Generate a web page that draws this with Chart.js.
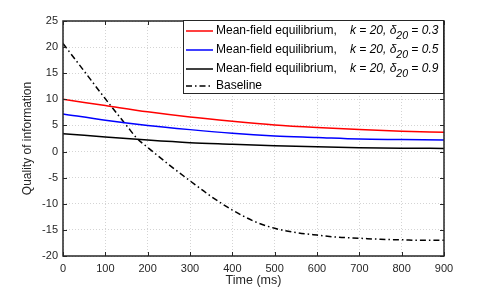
<!DOCTYPE html>
<html>
<head>
<meta charset="utf-8">
<script src="https://cdn.jsdelivr.net/npm/chart.js@4.4.1/dist/chart.umd.min.js"></script>
<style>
  html, body { margin: 0; padding: 0; background: #fff; }
  #wrap { position: relative; width: 491px; height: 289px; }
</style>
</head>
<body>
<div id="wrap"><canvas id="myChart" width="491" height="289"></canvas></div>
<script>
// Values
const timeMs = [0, 100, 200, 300, 400, 500, 600, 700, 800, 900];
const meanFieldDelta03 = [10.0, 8.8, 7.6, 6.6, 5.8, 5.1, 4.6, 4.2, 3.9, 3.7];
const meanFieldDelta05 = [7.2, 6.0, 5.0, 4.2, 3.5, 3.0, 2.7, 2.4, 2.3, 2.2];
const meanFieldDelta09 = [3.4, 2.8, 2.2, 1.7, 1.4, 1.1, 0.9, 0.75, 0.65, 0.6];
const baselineTime = [0, 50, 100, 150, 175, 200, 250, 300, 350, 400, 450, 500, 550, 600, 650, 700, 750, 800, 850, 900];
const baselineQuality = [20.7, 15.4, 10.1, 5.0, 2.5, 0.8, -2.5, -5.6, -8.6, -11.2, -13.3, -14.7, -15.5, -16.0, -16.4, -16.6, -16.8, -16.9, -17.0, -17.0];
const xTickValues = [0, 100, 200, 300, 400, 500, 600, 700, 800, 900];
const yTickValues = [-20, -15, -10, -5, 0, 5, 10, 15, 20, 25];

const legendItems = [
    { color: '#ff0000', dash: [], delta: '0.3' },
    { color: '#0000ff', dash: [], delta: '0.5' },
    { color: '#000000', dash: [], delta: '0.9' },
    { color: '#000000', dash: [6, 3, 1.5, 3], label: 'Baseline' }
];

const FONT = '"Liberation Sans", Arial, Helvetica, sans-serif';

function toPoints(xs, ys) {
    return xs.map((x, i) => ({ x: x, y: ys[i] }));
}

// box + inward ticks, MATLAB style
const boxPlugin = {
    id: 'boxPlugin',
    afterDatasetsDraw(chart) {
        const { ctx, chartArea: a, scales } = chart;
        ctx.save();
        ctx.strokeStyle = '#262626';
        ctx.lineWidth = 1;
        ctx.beginPath();
        xTickValues.forEach(v => {
            const px = Math.round(scales.x.getPixelForValue(v)) + 0.5;
            ctx.moveTo(px, a.bottom); ctx.lineTo(px, a.bottom - 4);
            ctx.moveTo(px, a.top); ctx.lineTo(px, a.top + 4);
        });
        yTickValues.forEach(v => {
            const py = Math.round(scales.y.getPixelForValue(v)) + 0.5;
            ctx.moveTo(a.left, py); ctx.lineTo(a.left + 4, py);
            ctx.moveTo(a.right, py); ctx.lineTo(a.right - 4, py);
        });
        ctx.stroke();
        ctx.lineWidth = 1.5;
        ctx.strokeRect(a.left, a.top, a.right - a.left, a.bottom - a.top);
        ctx.restore();
    }
};

// legend with subscripts, drawn on the canvas
const legendPlugin = {
    id: 'legendPlugin',
    afterDraw(chart) {
        const ctx = chart.ctx;
        const bx = 183, by = 20, bw = 260, bh = 73;
        ctx.save();
        ctx.fillStyle = '#fff';
        ctx.fillRect(bx, by, bw, bh);
        ctx.strokeStyle = '#262626';
        ctx.lineWidth = 1;
        ctx.strokeRect(bx + 0.5, by + 0.5, bw, bh);
        const rows = [31, 50, 69, 86];
        ctx.textBaseline = 'middle';
        legendItems.forEach((item, i) => {
            const y = rows[i];
            ctx.strokeStyle = item.color;
            ctx.lineWidth = 1.5;
            ctx.setLineDash(item.dash);
            ctx.beginPath();
            ctx.moveTo(186, y); ctx.lineTo(213, y);
            ctx.stroke();
            ctx.setLineDash([]);
            ctx.fillStyle = '#000';
            ctx.font = '12px ' + FONT;
            if (item.label) {
                ctx.fillText(item.label, 216, y);
                return;
            }
            ctx.fillText('Mean-field equilibrium,', 216, y);
            let x = 350;
            ctx.font = 'italic 12px ' + FONT;
            const mid = 'k = 20, \u03b4';
            ctx.fillText(mid, x, y);
            x += ctx.measureText(mid).width;
            ctx.font = 'italic 10.5px ' + FONT;
            ctx.fillText('20', x, y + 5);
            x += ctx.measureText('20').width;
            ctx.font = 'italic 12px ' + FONT;
            ctx.fillText(' = ' + item.delta, x, y);
        });
        ctx.restore();
    }
};

const lineStyle = { borderWidth: 1.5, pointRadius: 0, fill: false, cubicInterpolationMode: 'monotone' };

new Chart(document.getElementById('myChart').getContext('2d'), {
    type: 'line',
    data: {
        datasets: [
            Object.assign({ label: 'd03', data: toPoints(timeMs, meanFieldDelta03), borderColor: '#ff0000' }, lineStyle),
            Object.assign({ label: 'd05', data: toPoints(timeMs, meanFieldDelta05), borderColor: '#0000ff' }, lineStyle),
            Object.assign({ label: 'd09', data: toPoints(timeMs, meanFieldDelta09), borderColor: '#000000' }, lineStyle),
            Object.assign({ label: 'Baseline', data: toPoints(baselineTime, baselineQuality), borderColor: '#000000', borderDash: [6, 3, 1.5, 3] }, lineStyle)
        ]
    },
    options: {
        responsive: false,
        animation: false,
        layout: { padding: { top: 21, right: 47, left: 0, bottom: 0 } },
        plugins: { legend: { display: false }, tooltip: { enabled: false } },
        scales: {
            x: {
                type: 'linear', min: 0, max: 900,
                afterBuildTicks: s => { s.ticks = xTickValues.map(v => ({ value: v })); },
                afterFit: s => { s.height = 33; },
                border: { display: false, dash: [1, 2] },
                grid: { color: '#d4d4d4', drawTicks: false, lineWidth: 1 },
                ticks: { color: '#262626', font: { family: FONT, size: 11 }, padding: 6, maxRotation: 0 },
                title: { display: true, text: 'Time (ms)', color: '#262626', font: { family: FONT, size: 12.5 }, padding: { top: 0, bottom: 1 } }
            },
            y: {
                type: 'linear', min: -20, max: 25,
                afterBuildTicks: s => { s.ticks = yTickValues.map(v => ({ value: v })); },
                afterFit: s => { s.width = 63; },
                border: { display: false, dash: [1, 2] },
                grid: { color: '#d4d4d4', drawTicks: false, lineWidth: 1 },
                ticks: { color: '#262626', font: { family: FONT, size: 11 }, padding: 5 },
                title: { display: true, text: 'Quality of information', color: '#262626', font: { family: FONT, size: 12 }, padding: { top: 20, bottom: 0 } }
            }
        }
    },
    plugins: [boxPlugin, legendPlugin]
});
</script>
</body>
</html>
